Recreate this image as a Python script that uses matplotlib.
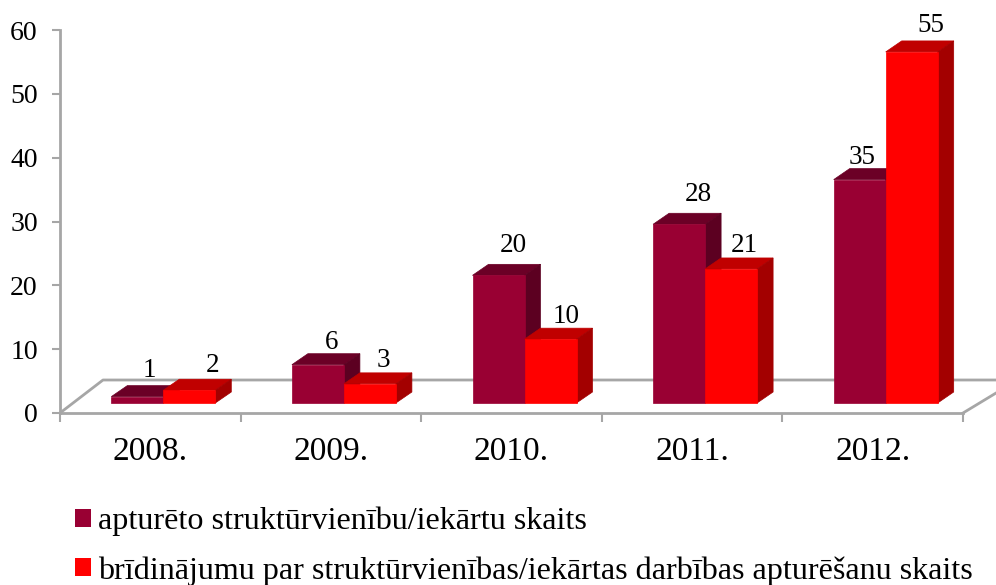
import matplotlib
matplotlib.use('Agg')
import matplotlib.pyplot as plt
from matplotlib.patches import Patch, Polygon

years = ['2008.', '2009.', '2010.', '2011.', '2012.']
apturets = [1, 6, 20, 28, 35]
bridinajumi = [2, 3, 10, 21, 55]
yticks = [0, 10, 20, 30, 40, 50, 60]
legend_labels = ['apturēto struktūrvienību/iekārtu skaits',
                 'brīdinājumu par struktūrvienības/iekārtas darbības apturēšanu skaits']

plt.rcParams['font.family'] = ['Liberation Serif', 'DejaVu Serif']

W, H = 996, 585
fig = plt.figure(figsize=(W / 100, H / 100), dpi=100)
ax = fig.add_axes([60 / W, 1 - 413 / H, 903 / W, 383 / H])
ax.set_xlim(-0.5, 4.5)
ax.set_ylim(0, 60)

# pixels to data units
px_x = 5 / 903
px_y = 60 / 383
grey = '#a6a6a6'

bar_w = 52 * px_x
shift = 13 * px_x
base = 10 * px_y
dx = 16 * px_x
dy = 11 * px_y


def bar3d(left, value, front, top, side):
    y0 = base
    y1 = base + value
    ax.add_patch(Polygon([(left, y1), (left + dx, y1 + dy), (left + bar_w + dx, y1 + dy), (left + bar_w, y1)],
                         fc=top, ec=top, lw=0.5, clip_on=False, zorder=3))
    ax.add_patch(Polygon([(left + bar_w, y0), (left + bar_w + dx, y0 + dy), (left + bar_w + dx, y1 + dy), (left + bar_w, y1)],
                         fc=side, ec=side, lw=0.5, clip_on=False, zorder=3))
    ax.add_patch(Polygon([(left, y0), (left + bar_w, y0), (left + bar_w, y1), (left, y1)],
                         fc=front, ec=front, lw=0.5, clip_on=False, zorder=3))


# floor of the 3d box
floor_dx = 43 * px_x
floor_dy = 33 * px_y
ax.plot([-0.5, -0.5 + floor_dx, 4.5 + floor_dx], [0, floor_dy, floor_dy], color=grey, lw=2, clip_on=False, zorder=1)
ax.plot([4.5, 4.5 + floor_dx], [0, 26 * px_y], color=grey, lw=2, clip_on=False, zorder=1)

for i in range(len(years)):
    bar3d(i + shift - bar_w, apturets[i], '#990033', '#6b0026', '#5c0021')
    bar3d(i + shift, bridinajumi[i], '#ff0000', '#c00000', '#a30000')

# labels were moved by hand in the original, so each has its own nudge (px)
nudge_a = [(12, 18), (14, 14), (15, 22), (19, 22), (2, 14)]
nudge_b = [(23, 17), (13, 15), (16, 15), (13, 15), (19, 18)]
for i in range(len(years)):
    for left, v, (nx, ny) in ((i + shift - bar_w, apturets[i], nudge_a[i]),
                              (i + shift, bridinajumi[i], nudge_b[i])):
        ax.annotate(str(v), (left + bar_w / 2, base + v + dy), xytext=(nx, ny - 3), textcoords='offset pixels',
                    ha='center', va='center', fontsize=19.5, color='black', annotation_clip=False, zorder=4)

for s in ('top', 'right'):
    ax.spines[s].set_visible(False)
for s in ('left', 'bottom'):
    ax.spines[s].set_color(grey)
    ax.spines[s].set_linewidth(2)

ax.set_yticks(yticks)
ax.tick_params(axis='y', length=6, width=1.5, color=grey, labelsize=20, pad=10)
ax.set_xticks([i - 0.5 for i in range(len(years) + 1)])
ax.set_xticklabels([])
ax.set_xticks(range(len(years)), years, minor=True)
ax.tick_params(axis='x', which='major', length=6.5, width=1.5, color=grey)
ax.tick_params(axis='x', which='minor', length=0, labelsize=24, pad=17)

handles = [Patch(fc='#990033', ec='none'), Patch(fc='#ff0000', ec='none')]
fig.legend(handles, legend_labels, loc='upper left', bbox_to_anchor=(65 / W, 1 - 497 / H),
           frameon=False, fontsize=23.1, handlelength=0.5, handleheight=0.5, handletextpad=0.22,
           labelspacing=0.62, borderpad=0.3, borderaxespad=0)

fig.savefig('out.png', dpi=100, facecolor='white')
